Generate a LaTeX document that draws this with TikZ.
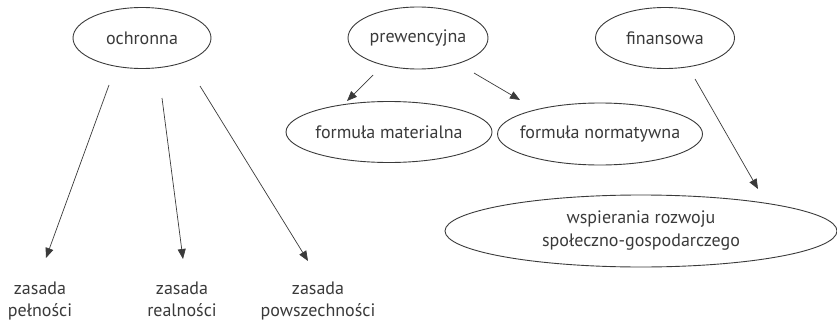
\documentclass[tikz,border=0pt]{standalone}
\usepackage{fontspec}
\setmainfont{PT Sans}
\usetikzlibrary{shapes.geometric,arrows.meta}
\definecolor{ink}{HTML}{3A3A3A}
\tikzset{
  oval/.style 2 args={ellipse, draw=ink, line width=0.9pt, minimum width=#1, minimum height=#2, inner sep=0pt},
  txt/.style={align=center, text=ink, inner sep=0pt, font=\fontsize{18}{23}\selectfont},
  lbl/.style={align=center, text=ink, inner sep=0pt, anchor=north, font=\fontsize{18}{22}\selectfont},
  arr/.style={draw=ink, line width=0.7pt, -{Triangle[length=10pt,width=8pt]}}
}
\begin{document}
\begin{tikzpicture}[x=1pt,y=-1pt]
\useasboundingbox (0,0) rectangle (837,321);
\node[oval={138pt}{61pt}] (ochronna) at (142,38) {};
\node[oval={140pt}{62pt}] (prewencyjna) at (418,38) {};
\node[oval={139pt}{61pt}] (finansowa) at (665,38) {};
\node[oval={206pt}{61pt}] (materialna) at (389,132) {};
\node[oval={205pt}{62pt}] (normatywna) at (600,134) {};
\node[oval={392pt}{72pt}] (wspierania) at (641,231) {};
\node[txt] (t-ochronna) at (ochronna) {ochronna};
\node[txt] (t-prewencyjna) at (prewencyjna) {prewencyjna};
\node[txt] (t-finansowa) at (finansowa) {finansowa};
\node[txt] (t-materialna) at (materialna) {formuła materialna};
\node[txt] (t-normatywna) at (normatywna) {formuła normatywna};
\node[txt] (t-wspierania) at (wspierania) {wspierania rozwoju\\społeczno-gospodarczego};
\node[lbl] (pelnosci) at (40,282) {zasada\\pełności};
\node[lbl] (realnosci) at (182,282) {zasada\\realności};
\node[lbl] (powszechnosci) at (318,282) {zasada\\powszechności};
\coordinate (o1) at (109,85);  \coordinate (p1) at (46,258);
\coordinate (o2) at (162,98);  \coordinate (p2) at (183,259);
\coordinate (o3) at (200,86);  \coordinate (p3) at (308,261);
\coordinate (w1) at (373,75);  \coordinate (m1) at (347,101);
\coordinate (w2) at (474,73);  \coordinate (n1) at (520,100);
\coordinate (f1) at (695,79);  \coordinate (s1) at (758,189);
\draw[arr] (o1) -- (p1);
\draw[arr] (o2) -- (p2);
\draw[arr] (o3) -- (p3);
\draw[arr] (w1) -- (m1);
\draw[arr] (w2) -- (n1);
\draw[arr] (f1) -- (s1);
\end{tikzpicture}
\end{document}
